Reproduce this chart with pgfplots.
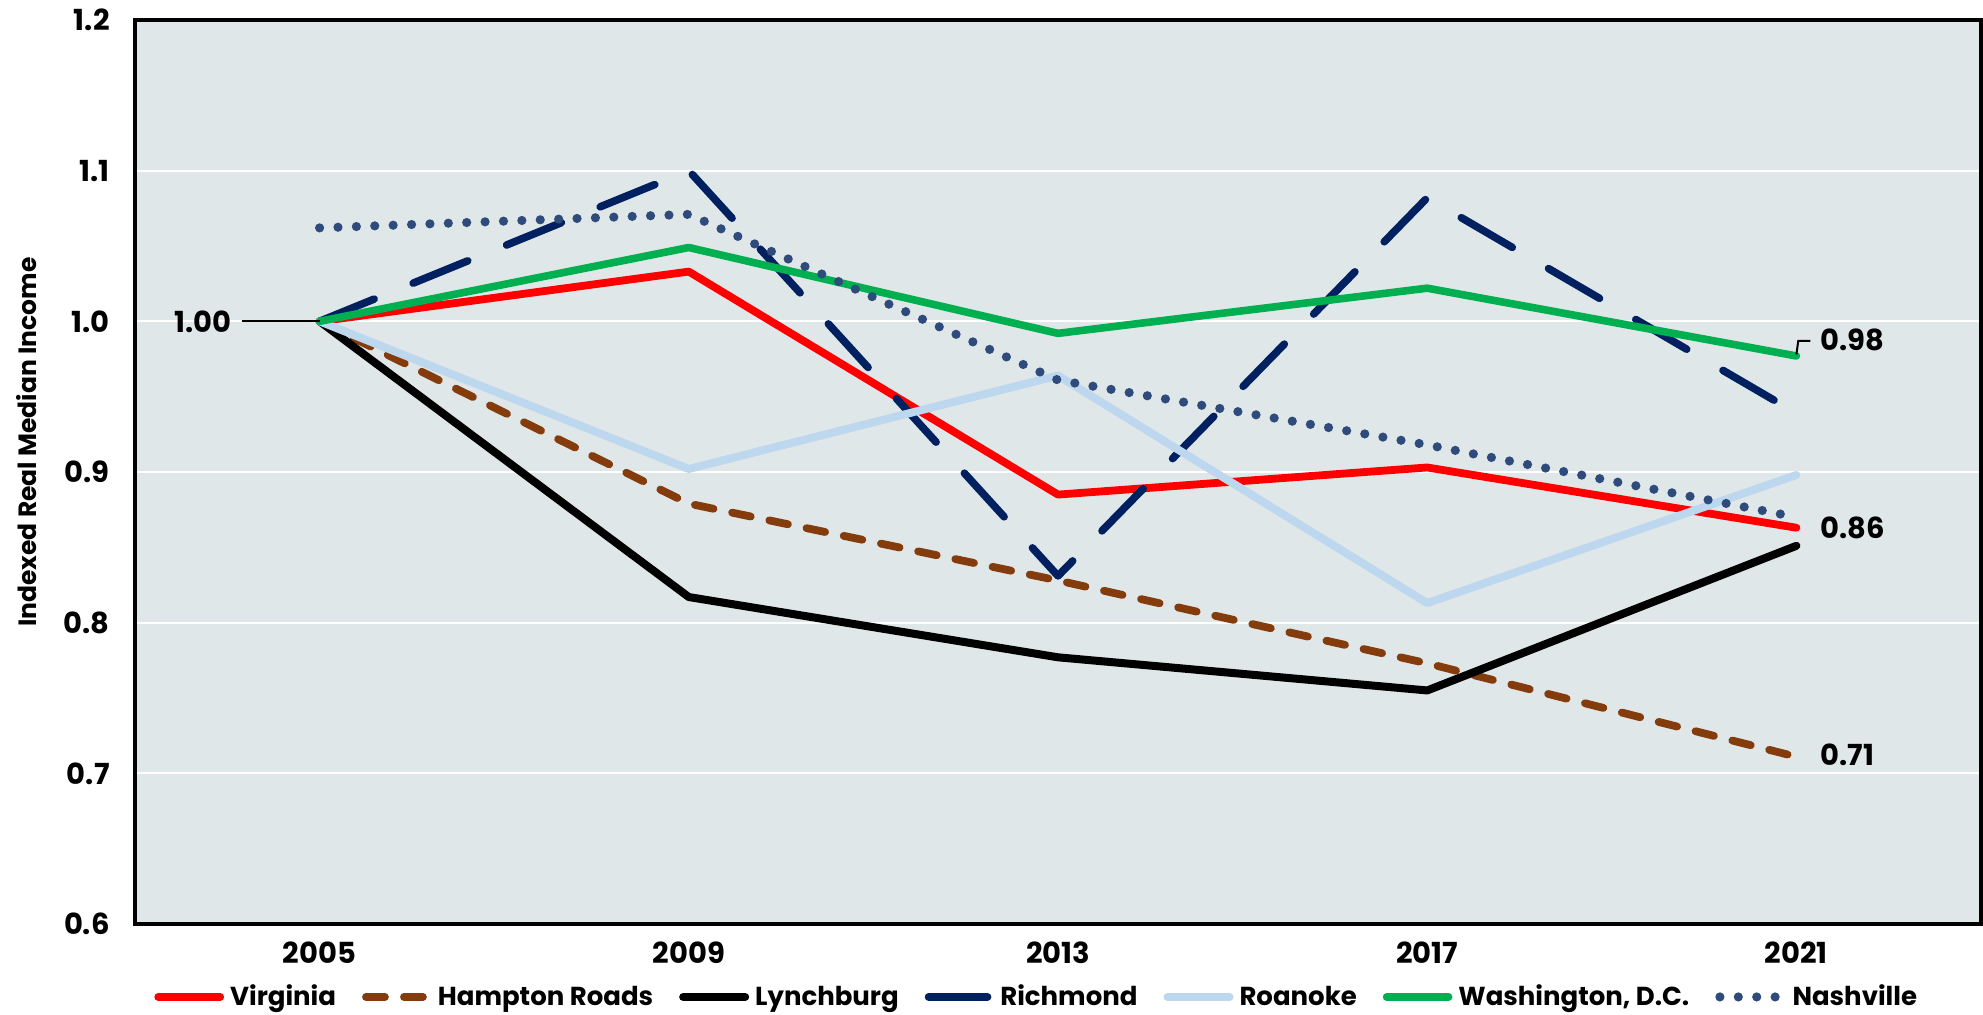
\documentclass[border=0pt]{standalone}
\usepackage{fontspec}
\setmainfont{Poppins}
\usepackage{pgfplots}
\pgfplotsset{compat=1.18}

\definecolor{plotbg}{HTML}{E0E7E9}
\definecolor{vared}{HTML}{FF0000}
\definecolor{hrbrown}{HTML}{843C0C}
\definecolor{ricnavy}{HTML}{002060}
\definecolor{roalight}{HTML}{BDD7EE}
\definecolor{dcgreen}{HTML}{00B050}
\definecolor{nashblue}{HTML}{2F4B7C}

\begin{document}
\begin{tikzpicture}
\useasboundingbox (-67.5pt,-45.5pt) rectangle (924pt,462pt);
\begin{axis}[
  scale only axis,
  width=923pt, height=452pt,
  at={(0pt,0pt)}, anchor=south west,
  axis background/.style={fill=plotbg},
  axis line style={black, line width=1.6pt},
  xmin=-0.5, xmax=4.5,
  ymin=0.6, ymax=1.2,
  xtick={0,1,2,3,4},
  xticklabels={2005,2009,2013,2017,2021},
  ytick={0.6,0.7,0.8,0.9,1.0,1.1,1.2},
  yticklabel style={/pgf/number format/fixed, /pgf/number format/precision=1,
    /pgf/number format/zerofill, inner sep=0pt, anchor=east, xshift=-12.5pt},
  xticklabel style={inner sep=0pt, anchor=north, yshift=-8.5pt},
  /pgf/number format/assume math mode=true,
  ticklabel style={font=\bfseries\fontsize{14.5}{14.5}\selectfont},
  major tick length=0pt,
  ymajorgrids,
  grid style={white, line width=1pt},
  ylabel={Indexed Real Median Income},
  ylabel style={font=\bfseries\fontsize{12.5}{12.5}\selectfont,
    at={(axis description cs:-0.0585,0.533)}, anchor=center},
  legend columns=7,
  legend style={draw=none, fill=none, at={(0.489,-0.0807)}, anchor=center,
    font=\bfseries\fontsize{13}{13}\selectfont, inner sep=0pt,
    /tikz/every even column/.append style={column sep=11pt},
    /tikz/every odd column/.append style={column sep=1pt}},
  legend image code/.code={\draw[#1] (0pt,0pt) -- (31pt,0pt);},
  clip=false,
  every axis plot/.append style={line cap=round, line join=round},
]
\addplot[vared, line width=3.9pt] coordinates {
  (0,1.000) (1,1.033) (2,0.885) (3,0.903) (4,0.863)
};
\addlegendentry{Virginia}
\addplot[hrbrown, line width=3.9pt, dash pattern=on 9.5pt off 9.5pt] coordinates {
  (0,1.000) (1,0.879) (2,0.828) (3,0.773) (4,0.711)
};
\addlegendentry{Hampton Roads}
\addplot[black, line width=4pt] coordinates {
  (0,1.000) (1,0.817) (2,0.777) (3,0.755) (4,0.851)
};
\addlegendentry{Lynchburg}
\addplot[ricnavy, line width=3.8pt, dash pattern=on 29.5pt off 21pt] coordinates {
  (0,1.000) (1,1.100) (2,0.831) (3,1.082) (4,0.939)
};
\addlegendentry{Richmond}
\addplot[roalight, line width=4pt] coordinates {
  (0,1.000) (1,0.902) (2,0.964) (3,0.813) (4,0.898)
};
\addlegendentry{Roanoke}
\addplot[dcgreen, line width=3.8pt] coordinates {
  (0,1.000) (1,1.049) (2,0.992) (3,1.022) (4,0.977)
};
\addlegendentry{Washington, D.C.}
\addplot[nashblue, line width=4.6pt, dash pattern=on 0pt off 9.2pt] coordinates {
  (0,1.062) (1,1.071) (2,0.961) (3,0.918) (4,0.870)
};
\addlegendentry{Nashville}

\draw[black, line width=1pt] (axis cs:-0.21,1.0) -- (axis cs:0,1.0);
\node[anchor=east, inner sep=0pt, font=\bfseries\fontsize{14.5}{14.5}\selectfont]
  at (axis cs:-0.237,1.0) {1.00};
\draw[black, line width=1pt] (axis cs:4,0.978) -- (axis cs:4.005,0.987) -- (axis cs:4.038,0.987);
\node[anchor=west, inner sep=0pt, font=\bfseries\fontsize{14.5}{14.5}\selectfont]
  at (axis cs:4.065,0.9875) {0.98};
\node[anchor=west, inner sep=0pt, font=\bfseries\fontsize{14.5}{14.5}\selectfont]
  at (axis cs:4.065,0.8628) {0.86};
\node[anchor=west, inner sep=0pt, font=\bfseries\fontsize{14.5}{14.5}\selectfont]
  at (axis cs:4.065,0.7122) {0.71};
\end{axis}
\end{tikzpicture}
\end{document}
